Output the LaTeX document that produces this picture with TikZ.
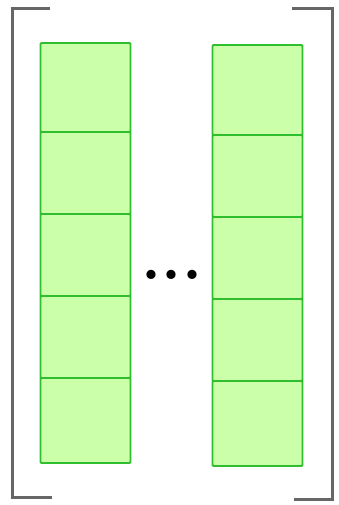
\documentclass[tikz,border=0pt]{standalone}
\begin{document}
\begin{tikzpicture}[x=1pt,y=-1pt,
  cell/.style={draw=cellline,fill=cellfill,line width=1.8pt,rounded corners=1pt,
    anchor=north west,inner sep=0pt,outer sep=0pt,minimum width=90pt},
  bracket/.style={draw=brk,line width=3pt}]
\definecolor{cellfill}{HTML}{CCFFAA}
\definecolor{cellline}{HTML}{2EBE2E}
\definecolor{brk}{HTML}{666666}
\useasboundingbox (0,0) rectangle (338,505);
% left column
\node[cell,minimum height=89pt] (l1) at (40.5,43) {};
\node[cell,minimum height=82pt] (l2) at (40.5,132) {};
\node[cell,minimum height=82pt] (l3) at (40.5,214) {};
\node[cell,minimum height=82pt] (l4) at (40.5,296) {};
\node[cell,minimum height=85pt] (l5) at (40.5,378) {};
% right column
\node[cell,minimum height=90pt] (r1) at (212.5,45) {};
\node[cell,minimum height=82pt] (r2) at (212.5,135) {};
\node[cell,minimum height=82pt] (r3) at (212.5,217) {};
\node[cell,minimum height=82pt] (r4) at (212.5,299) {};
\node[cell,minimum height=85pt] (r5) at (212.5,381) {};
% dots
\node[inner sep=0pt,anchor=base,font=\bfseries\fontsize{64}{64}\selectfont] (dots) at (172,279) {...};
% brackets
\draw[bracket] (50,8.5) -- (12,8.5) -- (12,497) -- (52,497);
\draw[bracket] (292,9) -- (332,9) -- (332,499) -- (294,499);
\end{tikzpicture}
\end{document}
